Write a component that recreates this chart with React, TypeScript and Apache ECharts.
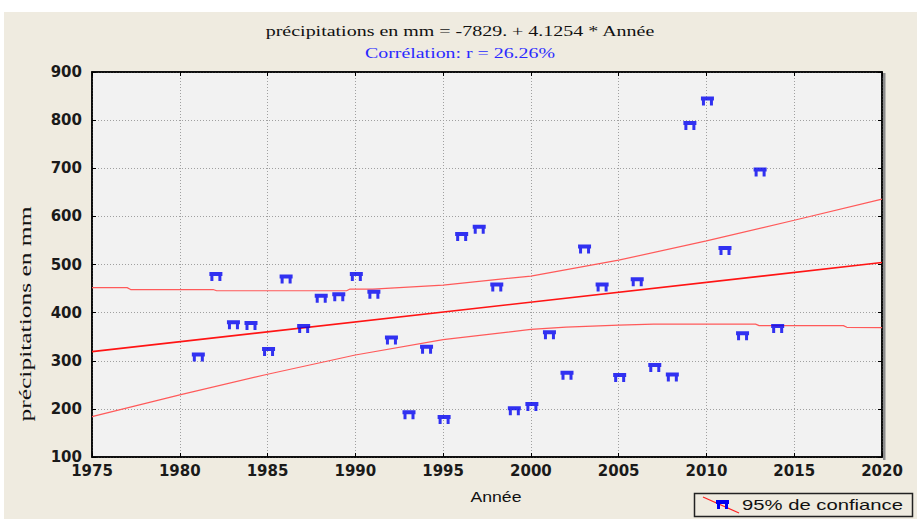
import React, { useEffect, useRef } from "react";
import * as echarts from "echarts";

// ---- data ----
const years = [
  1981, 1982, 1983, 1984, 1985, 1986, 1987, 1988, 1989, 1990, 1991, 1992,
  1993, 1994, 1995, 1996, 1997, 1998, 1999, 2000, 2001, 2002, 2003, 2004,
  2005, 2006, 2007, 2008, 2009, 2010, 2011, 2012, 2013, 2014,
];
const precipitations = [
  308, 475, 375, 373, 319, 470, 367, 430, 433, 475, 438, 343,
  188, 324, 178, 558, 573, 453, 196, 205, 354, 270, 532, 453,
  265, 464, 286, 266, 789, 840, 529, 352, 692, 367,
];
const fitYears = [1975, 2020];
const fitValues = [319, 504];
const upperYears = [1975, 1977, 1977.2, 1981.9, 1982.1, 1989.5, 1989.7, 1991, 1995, 2000, 2005, 2010, 2015, 2020];
const upperValues = [452, 452, 448, 448, 445.5, 445.5, 449, 449, 457, 476, 509, 549, 592, 636];
const lowerYears = [1975, 1980, 1985, 1990, 1995, 2000, 2002, 2005, 2007, 2012.8, 2013, 2017.8, 2018, 2020];
const lowerValues = [184, 229, 272, 312, 344, 365, 370, 374, 376, 376, 373, 373, 369.5, 369];
const xTicks = { min: 1975, max: 2020, interval: 5 };
const yTicks = { min: 100, max: 900, interval: 100 };

const titleText = "précipitations en mm = -7829. + 4.1254 * Année";
const subtitleText = "Corrélation: r = 26.26%";
const yName = "précipitations en mm";
const xName = "Année";
const legendText = "95% de confiance";

const markerPath = "path://M0,0H13V4H0Z M1,4H4V9H1Z M9,4H12V9H9Z";

function fitScale(text: string, font: string, target: number): number {
  const ctx = document.createElement("canvas").getContext("2d");
  if (!ctx) return 1;
  ctx.font = font;
  const w = ctx.measureText(text).width;
  return w > 0 ? target / w : 1;
}

export default function App() {
  const ref = useRef<HTMLDivElement>(null);

  useEffect(() => {
    if (!ref.current) return;
    const chart = echarts.init(ref.current, null, { renderer: "svg" });

    const serif = '"Liberation Serif", "Times New Roman", serif';
    const sans = '"Liberation Sans", Arial, sans-serif';
    const titleFont = `15px ${serif}`;
    const yNameFont = `17px ${serif}`;
    const sansFont = `14px ${sans}`;

    const pts = years.map((y, i) => [y, precipitations[i]]);
    const fit = fitYears.map((y, i) => [y, fitValues[i]]);
    const upper = upperYears.map((y, i) => [y, upperValues[i]]);
    const lower = lowerYears.map((y, i) => [y, lowerValues[i]]);

    const tickLabel = {
      fontFamily: '"DejaVu Sans", sans-serif',
      fontWeight: "bold" as const,
      fontSize: 15,
      color: "#1a1a1a",
      formatter: (v: number) => String(v),
    };

    const gridLine = { show: true, lineStyle: { color: "#a0a0a0", type: [1, 2], width: 1 } };

    chart.setOption({
      animation: false,
      backgroundColor: "transparent",
      grid: {
        left: 92,
        top: 72,
        right: 41,
        bottom: 64,
        show: true,
        backgroundColor: "#f2f2f2",
        borderColor: "#000",
        borderWidth: 1.5,
      },
      xAxis: [
        {
          type: "value",
          ...xTicks,
          z: 2,
          axisLine: { show: true, lineStyle: { color: "#000", width: 1.5 } },
          axisTick: { show: true, inside: true, length: 4, lineStyle: { color: "#000" } },
          axisLabel: { ...tickLabel, margin: 6 },
          splitLine: gridLine,
        },
        {
          type: "value",
          position: "top",
          ...xTicks,
          z: 2,
          axisLine: { show: true, lineStyle: { color: "#000", width: 1.5 } },
          axisTick: { show: true, inside: true, length: 4, lineStyle: { color: "#000" } },
          axisLabel: { show: false },
          splitLine: { show: false },
        },
      ],
      yAxis: [
        {
          type: "value",
          ...yTicks,
          z: 2,
          axisLine: { show: true, lineStyle: { color: "#000", width: 1.5 } },
          axisTick: { show: true, inside: true, length: 4, lineStyle: { color: "#000" } },
          axisLabel: { ...tickLabel, margin: 10 },
          splitLine: gridLine,
        },
        {
          type: "value",
          position: "right",
          ...yTicks,
          z: 2,
          axisLine: { show: true, lineStyle: { color: "#000", width: 1.5 } },
          axisTick: { show: true, inside: true, length: 4, lineStyle: { color: "#000" } },
          axisLabel: { show: false },
          splitLine: { show: false },
        },
      ],
      series: [
        {
          name: "upper",
          type: "line",
          data: upper,
          showSymbol: false,
          lineStyle: { color: "#ff5a5a", width: 1.2 },
          z: 3,
        },
        {
          name: "lower",
          type: "line",
          data: lower,
          showSymbol: false,
          lineStyle: { color: "#ff5a5a", width: 1.2 },
          z: 3,
        },
        {
          name: "fit",
          type: "line",
          data: fit,
          showSymbol: false,
          lineStyle: { color: "#ff1414", width: 1.6 },
          z: 3,
        },
        {
          name: "précipitations",
          type: "scatter",
          data: pts,
          symbol: markerPath,
          symbolSize: [13, 9],
          symbolOffset: [1, 0],
          itemStyle: { color: "#0000f0" },
          z: 4,
        },
      ],
      graphic: [
        {
          type: "rect",
          z: -10,
          silent: true,
          shape: { x: 4, y: 12, width: 913, height: 507 },
          style: { fill: "#efebe0" },
        },
        {
          type: "rect",
          z: 0,
          silent: true,
          shape: { x: 883, y: 73, width: 2.5, height: 387 },
          style: { fill: "#8c8c8c" },
        },
        {
          type: "text",
          x: 460,
          y: 31,
          scaleX: fitScale(titleText, titleFont, 390),
          style: {
            text: titleText,
            font: titleFont,
            fill: "#111",
            textAlign: "center",
            textVerticalAlign: "middle",
          },
        },
        {
          type: "text",
          x: 460,
          y: 53,
          scaleX: fitScale(subtitleText, titleFont, 190),
          style: {
            text: subtitleText,
            font: titleFont,
            fill: "#2a2aff",
            textAlign: "center",
            textVerticalAlign: "middle",
          },
        },
        {
          type: "text",
          x: 26,
          y: 314,
          rotation: Math.PI / 2,
          scaleX: fitScale(yName, yNameFont, 215),
          style: {
            text: yName,
            font: yNameFont,
            fill: "#111",
            textAlign: "center",
            textVerticalAlign: "middle",
          },
        },
        {
          type: "text",
          x: 496,
          y: 497,
          scaleX: fitScale(xName, sansFont, 51),
          style: {
            text: xName,
            font: sansFont,
            fill: "#111",
            textAlign: "center",
            textVerticalAlign: "middle",
          },
        },
        {
          type: "rect",
          shape: { x: 694.5, y: 493.5, width: 218, height: 23 },
          style: { fill: "#efebe0", stroke: "#222", lineWidth: 1.5 },
        },
        {
          type: "line",
          shape: { x1: 703, y1: 497, x2: 739, y2: 513 },
          style: { stroke: "#ff2020", lineWidth: 1.2 },
        },
        {
          type: "rect",
          shape: { x: 716, y: 500, width: 13, height: 4 },
          style: { fill: "#0000f0" },
        },
        {
          type: "rect",
          shape: { x: 717, y: 504, width: 3, height: 5 },
          style: { fill: "#0000f0" },
        },
        {
          type: "rect",
          shape: { x: 725, y: 504, width: 3, height: 5 },
          style: { fill: "#0000f0" },
        },
        {
          type: "text",
          x: 742,
          y: 505,
          scaleX: fitScale(legendText, sansFont, 161),
          style: {
            text: legendText,
            font: sansFont,
            fill: "#111",
            textAlign: "left",
            textVerticalAlign: "middle",
          },
        },
      ],
    });

    return () => chart.dispose();
  }, []);

  return (
    <div
      ref={ref}
      style={{ position: "absolute", left: 0, top: 0, width: 923, height: 521 }}
    />
  );
}
